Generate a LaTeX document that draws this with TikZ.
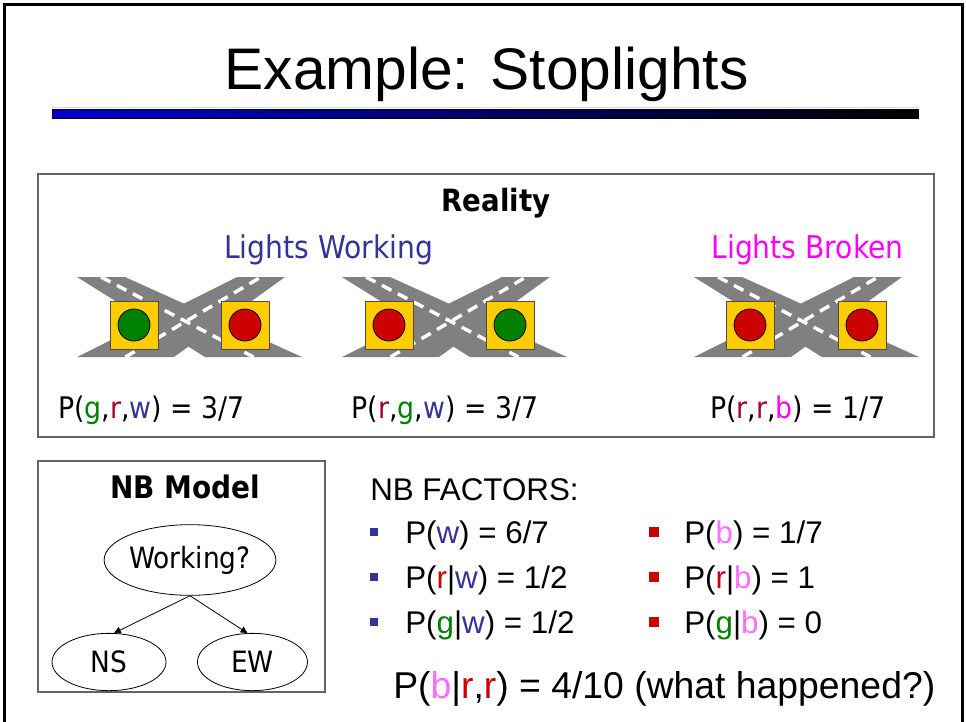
\documentclass[tikz,border=0pt]{standalone}
\usepackage{fontspec}
\setmainfont{Liberation Sans}
\newfontfamily\tahoma{DejaVu Sans Condensed}
\usetikzlibrary{positioning,shapes.geometric,arrows.meta}

\definecolor{wblue}{RGB}{51,51,153}
\definecolor{gcol}{RGB}{0,128,0}
\definecolor{rdark}{RGB}{165,0,40}
\definecolor{rred}{RGB}{204,0,0}
\definecolor{bmag}{RGB}{255,0,255}
\definecolor{bpink}{RGB}{255,110,255}
\definecolor{road}{RGB}{128,128,128}
\definecolor{lampbox}{RGB}{255,204,0}
\definecolor{barblue}{RGB}{0,0,204}
\definecolor{boxgray}{RGB}{100,100,100}

% coloured variable letters
\newcommand{\vg}{\textcolor{gcol}{g}}
\newcommand{\vr}{\textcolor{rdark}{r}}
\newcommand{\vw}{\textcolor{wblue}{w}}
\newcommand{\vb}{\textcolor{bmag}{b}}
\newcommand{\fr}{\textcolor{rred}{r}}
\newcommand{\fb}{\textcolor{bpink}{b}}
\newcommand{\sz}[1]{\fontsize{#1}{1.2\dimexpr#1\relax}\selectfont}

\begin{document}
\begin{tikzpicture}[
                x=0.75pt,y=-0.75pt,
                every node/.append style={inner sep=0pt},
                frame/.style={draw=boxgray,line width=1.1pt},
                lightbox/.style={rectangle,draw=black!70,line width=0.5pt,fill=lampbox,minimum size=36pt},
                bulb/.style={circle,draw=black,line width=0.6pt,minimum size=24pt},
                dashes/.style={white,line width=2.6pt,dash pattern=on 8pt off 5.5pt},
                var/.style={ellipse,draw,line width=0.6pt,font=\tahoma\sz{22pt}},
                cause/.style={-{Triangle[length=5pt,width=5pt]},line width=0.6pt},
                tah/.style={font=\tahoma\sz{22.3pt}},
                factor/.style={anchor=base west,font=\sz{23.5pt}},
                bullet/.style={rectangle,minimum size=5.5pt}
            ]
                \useasboundingbox (0,0) rectangle (966,721);
                \clip (0,0) rectangle (966,721);
                \draw[line width=2.25pt] (4.5,4.5) rectangle (962.5,760);

                % title and bar
                \node (title) [anchor=base,font=\sz{44pt}] at (486.5,89) {Example: Stoplights};
                \draw[black!15,line width=0.6pt] (52,107.5) -- (918,107.5);
                \shade[left color=barblue,right color=black] (52,109) rectangle (918,118);
                \draw[line width=0.5pt] (52,109) rectangle (918,118);

                % reality panel
                \draw[frame] (38,174) rectangle (934,437);
                \node (reality) [anchor=base,font=\tahoma\bfseries\sz{23pt}] at (496,211) {Reality};
                \node (working) [anchor=base,text=wblue,font=\tahoma\sz{23.5pt}] at (328.5,258) {Lights Working};
                \node (broken)  [anchor=base,text=bmag,font=\tahoma\sz{23.5pt}] at (807.5,258) {Lights Broken};

                \foreach \x/\a/\lc/\rc [count=\i] in {77/57/gcol/rred, 342/47/rred/gcol, 694/56/rred/rred} {
                    \fill[road] (\x,277) -- ++(48,0) -- (\x+225,357) -- (\x+128,357) -- cycle;
                    \fill[road] (\x,357) -- ++(97,0) -- (\x+208,277) -- (\x+160,277) -- cycle;
                    \draw[dashes] (\x+24,277) -- (\x+176.5,357);
                    \draw[dashes] (\x+48.5,357) -- (\x+184,277);
                    \node (ns\i) [lightbox] at (\x+\a,325) {};
                    \node (ew\i) [lightbox] at (\x+168,325) {};
                    \node (nsl\i) [bulb,fill=\lc] at (ns\i) {};
                    \node (ewl\i) [bulb,fill=\rc] at (ew\i) {};
                }

                \node (pgrw) [anchor=base,tah] at (151.5,418) {P(\vg,\vr,\vw) = 3/7};
                \node (prgw) [anchor=base,tah] at (445,418) {P(\vr,\vg,\vw) = 3/7};
                \node (prrb) [anchor=base,tah] at (798,418) {P(\vr,\vr,\vb) = 1/7};

                % naive Bayes model
                \draw[frame] (38,461) rectangle (325,692);
                \node (nbmodel) [anchor=base,font=\tahoma\bfseries\sz{23.3pt}] at (185,498) {NB Model};
                \node (work) [var,minimum width=119pt,minimum height=53pt] at (190,560) {Working?};
                \node (ns) [var,minimum width=85.5pt,minimum height=43pt] at (109,662) {NS};
                \node (ew) [var,minimum width=82.5pt,minimum height=43pt,right=23pt of ns] {EW};
                \draw[cause] (work.south) -- (ns.80);
                \draw[cause] (work.south) -- (ew.100);

                % factors
                \node (factors) [factor] at (370,500) {NB FACTORS:};
                \foreach \y/\ltxt/\rtxt [count=\j] in {543/{P(\vw) = 6/7}/{P(\fb) = 1/7},
                                                      588/{P(\fr|\vw) = 1/2}/{P(\fr|\fb) = 1},
                                                      633/{P(\vg|\vw) = 1/2}/{P(\vg|\fb) = 0}} {
                    \node (lb\j) [bullet,fill=wblue] at (374,\y-11) {};
                    \node (lt\j) [factor] at (405,\y) {\ltxt};
                    \node (rb\j) [bullet,fill=rred,minimum size=7pt] at (654,\y-11) {};
                    \node (rt\j) [factor] at (684,\y) {\rtxt};
                }
                \node (query) [anchor=base west,font=\sz{28pt}] at (393,698) {P(\fb|\fr,\fr) = 4/10 (what happened?)};
            \end{tikzpicture}
\end{document}
